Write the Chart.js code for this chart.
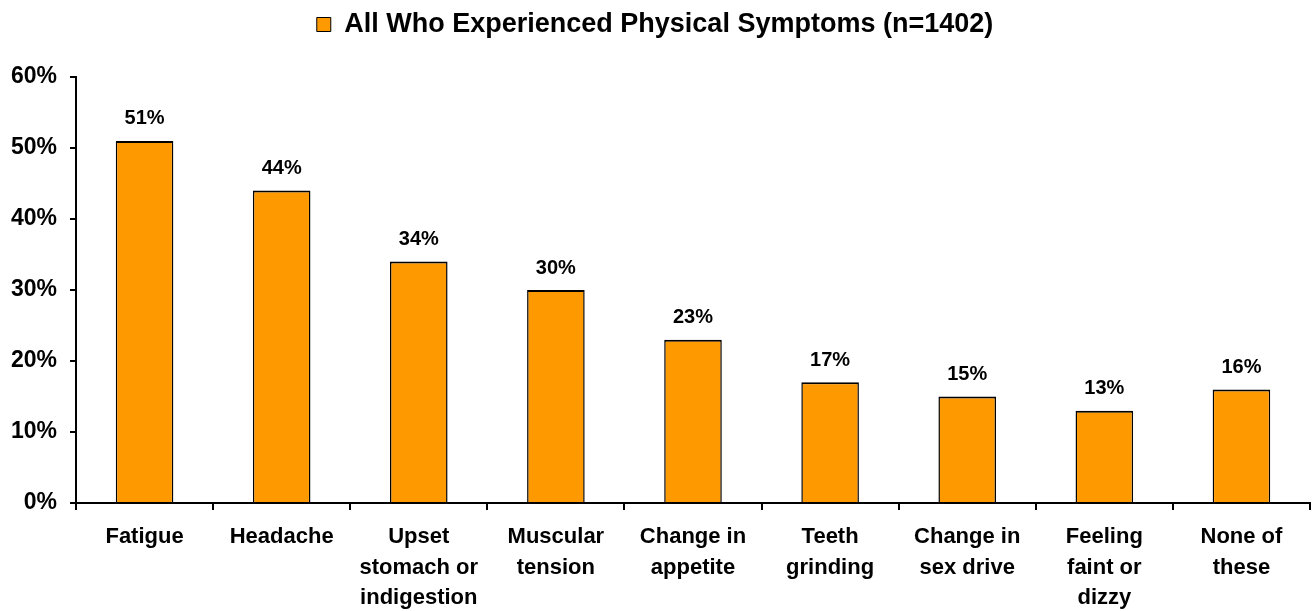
<!DOCTYPE html>
<html>
<head>
<meta charset="utf-8">
<script src="https://cdn.jsdelivr.net/npm/chart.js@4.4.0/dist/chart.umd.min.js"></script>
<style>
  html, body { margin: 0; padding: 0; background: #fff; }
  #wrap { width: 1315px; height: 611px; position: relative; }
</style>
</head>
<body>
<div id="wrap"><canvas id="symptomsChart"></canvas></div>
<script>
// data
var categories = [
    ['Fatigue'],
    ['Headache'],
    ['Upset', 'stomach or', 'indigestion'],
    ['Muscular', 'tension'],
    ['Change in', 'appetite'],
    ['Teeth', 'grinding'],
    ['Change in', 'sex drive'],
    ['Feeling', 'faint or', 'dizzy'],
    ['None of', 'these']
];
var symptomValues = [51, 44, 34, 30, 23, 17, 15, 13, 16];
var seriesName = 'All Who Experienced Physical Symptoms (n=1402)';
var yTicks = [0, 10, 20, 30, 40, 50, 60];

var fontFamily = '"Liberation Sans", Arial, sans-serif';

// draw the value above each bar
var valueLabels = {
    id: 'valueLabels',
    afterDatasetsDraw: function (chart) {
        var ctx = chart.ctx;
        var meta = chart.getDatasetMeta(0);
        ctx.save();
        ctx.font = 'bold 20px ' + fontFamily;
        ctx.fillStyle = '#000';
        ctx.textAlign = 'center';
        ctx.textBaseline = 'middle';
        meta.data.forEach(function (bar, i) {
            ctx.fillText(chart.data.datasets[0].data[i] + '%', bar.x, bar.y - 22);
        });
        ctx.restore();
    }
};

// leave more room between the legend and the plot
var legendGap = {
    id: 'legendGap',
    afterInit: function (chart) {
        var fit = chart.legend.fit;
        chart.legend.fit = function () {
            fit.call(this);
            this.height += 29;
        };
    }
};

var ctx = document.getElementById('symptomsChart').getContext('2d');

var chart = new Chart(ctx, {
    type: 'bar',
    data: {
        labels: categories,
        datasets: [{
            label: seriesName,
            data: symptomValues,
            backgroundColor: '#FF9900',
            borderColor: '#000',
            borderWidth: { top: 2, left: 1.5, right: 1.5, bottom: 0 },
            borderSkipped: false,
            barPercentage: 0.42,
            categoryPercentage: 1.0
        }]
    },
    options: {
        responsive: true,
        maintainAspectRatio: false,
        animation: false,
        layout: {
            padding: { top: 0, right: 5, left: 0, bottom: 0 }
        },
        plugins: {
            legend: {
                position: 'top',
                labels: {
                    color: '#000',
                    boxWidth: 14,
                    boxHeight: 14,
                    padding: 11,
                    font: { family: fontFamily, size: 27, weight: 'bold' },
                    generateLabels: function (chart) {
                        return [{
                            text: seriesName,
                            fillStyle: '#FF9900',
                            strokeStyle: '#000',
                            lineWidth: 1,
                            datasetIndex: 0
                        }];
                    }
                }
            },
            tooltip: { enabled: false }
        },
        scales: {
            x: {
                border: { display: true, color: '#000', width: 2 },
                grid: {
                    drawOnChartArea: false,
                    drawTicks: true,
                    tickLength: 7,
                    color: '#000',
                    lineWidth: 2
                },
                ticks: {
                    color: '#000',
                    padding: 12,
                    maxRotation: 0,
                    autoSkip: false,
                    font: { family: fontFamily, size: 22, weight: 'bold', lineHeight: 1.38 }
                },
                afterFit: function (axis) { axis.height = 108; }
            },
            y: {
                min: 0,
                max: 60,
                border: { display: true, color: '#000', width: 2 },
                grid: {
                    drawOnChartArea: false,
                    drawTicks: true,
                    tickLength: 6,
                    color: '#000',
                    lineWidth: 2
                },
                afterBuildTicks: function (axis) {
                    axis.ticks = yTicks.map(function (v) { return { value: v }; });
                },
                ticks: {
                    color: '#000',
                    padding: 13,
                    font: { family: fontFamily, size: 23, weight: 'bold' },
                    callback: function (value) { return value + '%'; }
                },
                afterFit: function (axis) { axis.width = 76; }
            }
        }
    },
    plugins: [valueLabels, legendGap]
});
</script>
</body>
</html>
